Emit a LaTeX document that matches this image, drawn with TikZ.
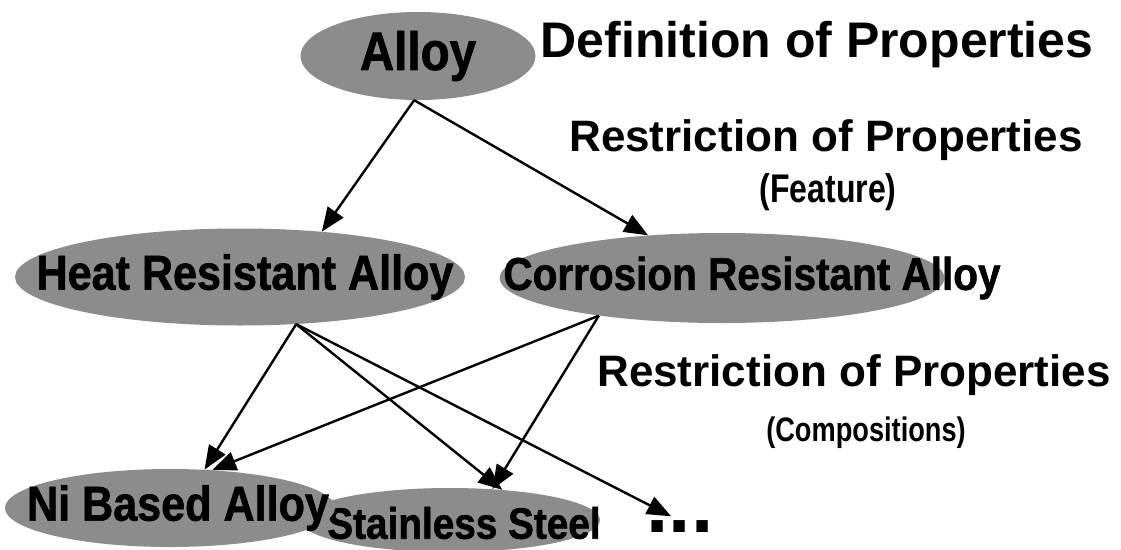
\documentclass[tikz,border=0pt]{standalone}
\usepackage{fontspec}
\setmainfont{Liberation Sans}
\newfontfamily\narrowsans{Liberation Sans}[FakeStretch=0.88, FakeBold=1.2]
\newfontfamily\slimsans{Liberation Sans}[FakeStretch=0.8]
\usetikzlibrary{arrows.meta,shapes.geometric}
\definecolor{alloyGray}{RGB}{140,140,140}

\begin{document}
\begin{tikzpicture}[x=1pt, y=-1pt,
  blob/.style={ellipse, fill=alloyGray, inner sep=0pt},
  blobtext/.style={inner sep=0pt, font=\narrowsans\bfseries\fontsize{46}{46}\selectfont},
  heading/.style={inner sep=0pt, font=\bfseries\fontsize{44}{44}\selectfont},
  note/.style={inner sep=0pt, font=\slimsans\bfseries\fontsize{40}{40}\selectfont},
  link/.style={-{Triangle[length=24pt,width=19pt]}, line width=2.4pt}
]
\useasboundingbox (0,0) rectangle (1121,549);

% class tree
\node[blob, minimum width=235, minimum height=88,
      label={[blobtext, font=\narrowsans\bfseries\fontsize{54}{54}\selectfont]center:Alloy}] (alloy) at (418,56) {};
\node[blob, minimum width=450, minimum height=97,
      label={[blobtext, xshift=5pt, font=\narrowsans\bfseries\fontsize{49}{49}\selectfont]center:Heat Resistant Alloy}] (heat) at (240,277) {};
\node[blob, minimum width=445, minimum height=90,
      label={[blobtext, xshift=30pt]center:Corrosion Resistant Alloy}] (corr) at (722,278) {};
\node[blob, minimum width=300, minimum height=64,
      label={[blobtext, xshift=14pt, yshift=-3pt, font=\narrowsans\bfseries\fontsize{44}{44}\selectfont]center:Stainless Steel}] (steel) at (450,520) {};
\node[blob, minimum width=330, minimum height=78,
      label={[blobtext, xshift=8pt, font=\narrowsans\bfseries\fontsize{49}{49}\selectfont]center:Ni Based Alloy}] (ni) at (170,508) {};
\node[inner sep=0pt, font=\bfseries\fontsize{80}{80}\selectfont] (dots) at (680,527) {...};

% level notes
\node[heading, font=\bfseries\fontsize{50}{50}\selectfont] (define) at (817,45) {Definition of Properties};
\node[heading] (restrictA) at (826,140) {Restriction of Properties};
\node[note] (feature) at (828,192) {(Feature)};
\node[heading] (restrictB) at (854,375) {Restriction of Properties};
\node[note, font=\slimsans\bfseries\fontsize{34}{34}\selectfont] (compo) at (866,433) {(Compositions)};

\draw[link] (alloy.265) -- (heat.29);
\draw[link] (alloy.265) -- (corr.150);
\draw[link] (heat.-40) -- (ni.48);
\draw[link] (heat.-40) -- (steel.30);
\draw[link, shorten >=10pt] (heat.-40) -- (dots.north);
\draw[link] (corr.197) -- (ni.42);
\draw[link] (corr.197) -- (steel.36);
\end{tikzpicture}
\end{document}
